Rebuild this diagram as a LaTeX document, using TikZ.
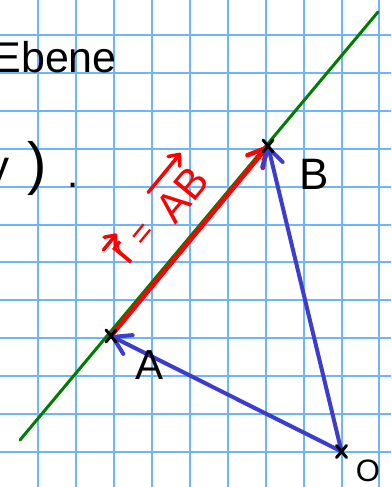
\documentclass[tikz,border=0pt]{standalone}
\usepackage{fontspec}
\setmainfont{Liberation Sans}
\usetikzlibrary{arrows.meta,calc}
\definecolor{gridblue}{RGB}{110,180,255}
\definecolor{penblue}{RGB}{60,60,205}
\definecolor{pengreen}{RGB}{0,125,0}
\definecolor{penred}{RGB}{255,0,0}
\tikzset{
  gridline/.style={draw=gridblue, line width=2pt},
  greenline/.style={draw=pengreen, line width=3pt, line cap=round},
  redvec/.style={draw=penred, line width=4.5pt, line cap=round, -{Straight Barb[length=18pt,width=20pt,round]}},
  bluevec/.style={draw=penblue, line width=4pt, line cap=round, -{Straight Barb[length=17pt,width=21pt,round]}},
  crossmark/.style={draw=black, line width=3pt, line cap=round},
  hand/.style={inner sep=0pt, text=black},
  redtext/.style={inner sep=0pt, text=penred},
  smallvec/.style={draw=penred, line width=3.5pt, line cap=round, -{Straight Barb[length=9pt,width=15pt,round]}},
}
\begin{document}
\begin{tikzpicture}[x=1pt,y=-1pt]
\useasboundingbox (0,0) rectangle (391,487);
\clip (0,0) rectangle (391,487);
\fill[white] (0,0) rectangle (391,487);
\foreach \i in {1,...,10} \draw[gridline] ({0.4+37.9*\i},-5) -- ({0.4+37.9*\i},492);
\foreach \j in {0,...,11} \draw[gridline] (-5,{35+37.9*\j}) -- (396,{35+37.9*\j});

% texts top left
\node[hand, anchor=base east, font=\fontsize{43}{43}\selectfont] (ebene) at (117,72) {Ebene};
\node[hand, anchor=base east, font=\fontsize{46}{46}\selectfont] (yy) at (10,182) {y};
\node[hand, font=\fontsize{58}{58}\selectfont] (rpar) at (37,168) {)};
\node[hand, font=\fontsize{40}{40}\selectfont, anchor=base] (dot) at (73,187) {.};

% points
\coordinate (A) at (111,336);
\coordinate (B) at (268,146);
\coordinate (O) at (341.5,451.5);
\coordinate (g1) at (20,440);
\coordinate (g2) at (378,12);

\draw[greenline] (g1) -- (g2);
\draw[redvec] (A) -- (B);
\draw[bluevec] (O) -- (A);
\draw[bluevec] (O) -- (B);

\foreach \p in {A,B,O}{
  \draw[crossmark] ($(\p)+(-5,-6)$) -- ($(\p)+(5,6)$);
  \draw[crossmark] ($(\p)+(-5,6)$) -- ($(\p)+(5,-6)$);
}

\node[hand, font=\fontsize{44}{44}\selectfont] (lB) at (314,174) {B};
\node[hand, font=\fontsize{42}{42}\selectfont] (lA) at (150,365) {A};
\node[hand, font=\fontsize{31}{31}\selectfont] (lO) at (368,471) {O};

% red label  r = AB (vectors), written along the line
\begin{scope}[shift={(158,212)}, rotate=50.5, transform shape]
  \node[redtext, font=\fontsize{44}{44}\selectfont] (lr) at (-54,0) {r};
  \node[redtext, font=\fontsize{34}{34}\selectfont] (leq) at (-27,5) {=};
  \node[redtext, font=\fontsize{42}{42}\selectfont] (lAB) at (29,8) {AB};
  \coordinate (vr1) at (-64,-18);
  \coordinate (vr2) at (-43,-18);
  \coordinate (vab1) at (9,-20);
  \coordinate (vab2) at (60,-20);
\end{scope}
\draw[smallvec] (vr1) -- (vr2);
\draw[smallvec] (vab1) -- (vab2);
\end{tikzpicture}
\end{document}
